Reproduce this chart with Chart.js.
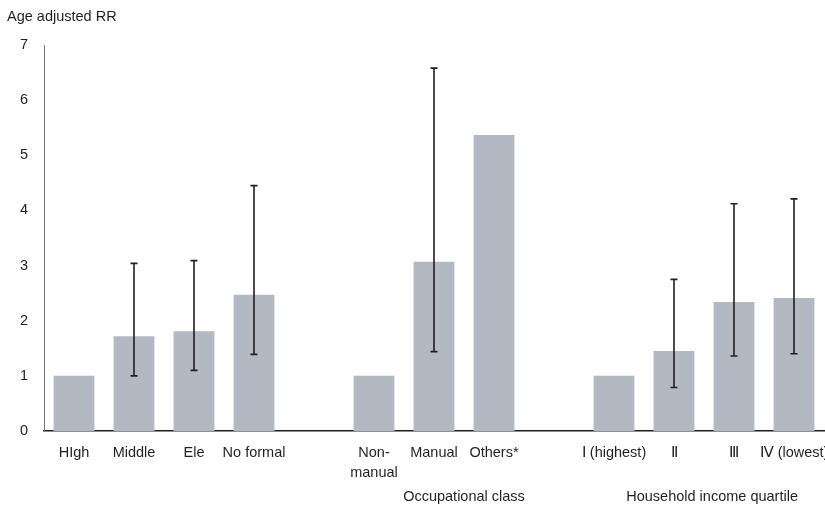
<!DOCTYPE html>
<html>
<head>
<meta charset="utf-8">
<script src="https://cdn.jsdelivr.net/npm/chart.js@4/dist/chart.umd.min.js"></script>
<style>
  html, body { margin: 0; padding: 0; background: #fff; }
  #wrap { width: 825px; height: 507px; position: relative; }
</style>
</head>
<body>
<div id="wrap"><canvas id="rr-chart"></canvas></div>
<script>
// categories (blank slots separate the groups)
const categories = ['HIgh', 'Middle', 'Ele', 'No formal', '', ['Non-', 'manual'], 'Manual', 'Others*', '',
  'Ⅰ (highest)', 'Ⅱ', 'Ⅲ', 'Ⅳ (lowest)'];
const rrValues = [1, 1.72, 1.81, 2.47, null, 1, 3.07, 5.37, null, 1, 1.45, 2.34, 2.41];
const ciLower = [null, 1.0, 1.1, 1.39, null, null, 1.44, null, null, null, 0.79, 1.36, 1.4];
const ciUpper = [null, 3.04, 3.09, 4.45, null, null, 6.58, null, null, null, 2.75, 4.12, 4.21];
const yTicks = [0, 1, 2, 3, 4, 5, 6, 7];
const groupLabels = [
  { text: 'Occupational class', from: 6, to: 7 },
  { text: 'Household income quartile', from: 10, to: 11.27 },
];

const FONT = 'Arial, "Liberation Sans", sans-serif';

// error bars + texts that are not part of an axis
const extrasPlugin = {
  id: 'extras',
  afterDatasetsDraw(chart) {
    const { ctx, scales: { x, y } } = chart;
    ctx.save();
    ctx.strokeStyle = '#231f20';
    ctx.lineWidth = 1.6;
    rrValues.forEach((v, i) => {
      if (ciLower[i] == null || ciUpper[i] == null) return;
      const px = x.getPixelForValue(i);
      const top = y.getPixelForValue(ciUpper[i]);
      const bot = y.getPixelForValue(ciLower[i]);
      ctx.beginPath();
      ctx.moveTo(px, top); ctx.lineTo(px, bot);
      ctx.moveTo(px - 3.5, top); ctx.lineTo(px + 3.5, top);
      ctx.moveTo(px - 3.5, bot); ctx.lineTo(px + 3.5, bot);
      ctx.stroke();
    });
    ctx.restore();
  },
  afterDraw(chart) {
    const { ctx, scales: { x } } = chart;
    ctx.save();
    ctx.fillStyle = '#231f20';
    ctx.font = '14.5px ' + FONT;
    ctx.textBaseline = 'middle';
    ctx.textAlign = 'left';
    ctx.fillText('Age adjusted RR', 7, 17);
    ctx.textAlign = 'center';
    groupLabels.forEach(g => {
      const cx = (x.getPixelForValue(g.from) + x.getPixelForValue(g.to)) / 2;
      ctx.fillText(g.text, cx, 497);
    });
    ctx.restore();
  },
};

new Chart(document.getElementById('rr-chart'), {
  type: 'bar',
  data: {
    labels: categories,
    datasets: [{
      data: rrValues,
      backgroundColor: '#b3b9c2',
      categoryPercentage: 1,
      barPercentage: 0.68,
    }],
  },
  options: {
    responsive: true,
    maintainAspectRatio: false,
    animation: false,
    layout: { padding: { top: 45, right: 1, left: 0, bottom: 0 } },
    plugins: { legend: { display: false }, tooltip: { enabled: false } },
    scales: {
      x: {
        grid: { display: false, drawTicks: false },
        border: { color: '#231f20', width: 1.5 },
        ticks: { color: '#231f20', font: { size: 14.5, family: FONT, lineHeight: 1.38 }, padding: 12, maxRotation: 0, autoSkip: false },
        afterFit(scale) { scale.height = 76; scale.paddingLeft = 0; scale.paddingRight = 0; },
      },
      y: {
        min: 0, max: 7,
        afterBuildTicks(scale) { scale.ticks = yTicks.map(v => ({ value: v })); },
        grid: { display: false, drawTicks: false },
        border: { color: '#7a7a7a', width: 1 },
        ticks: { color: '#231f20', font: { size: 14.5, family: FONT }, padding: 16 },
        afterFit(scale) { scale.width = 44; scale.paddingTop = 0; scale.paddingBottom = 0; },
      },
    },
  },
  plugins: [extrasPlugin],
});
</script>
</body>
</html>
